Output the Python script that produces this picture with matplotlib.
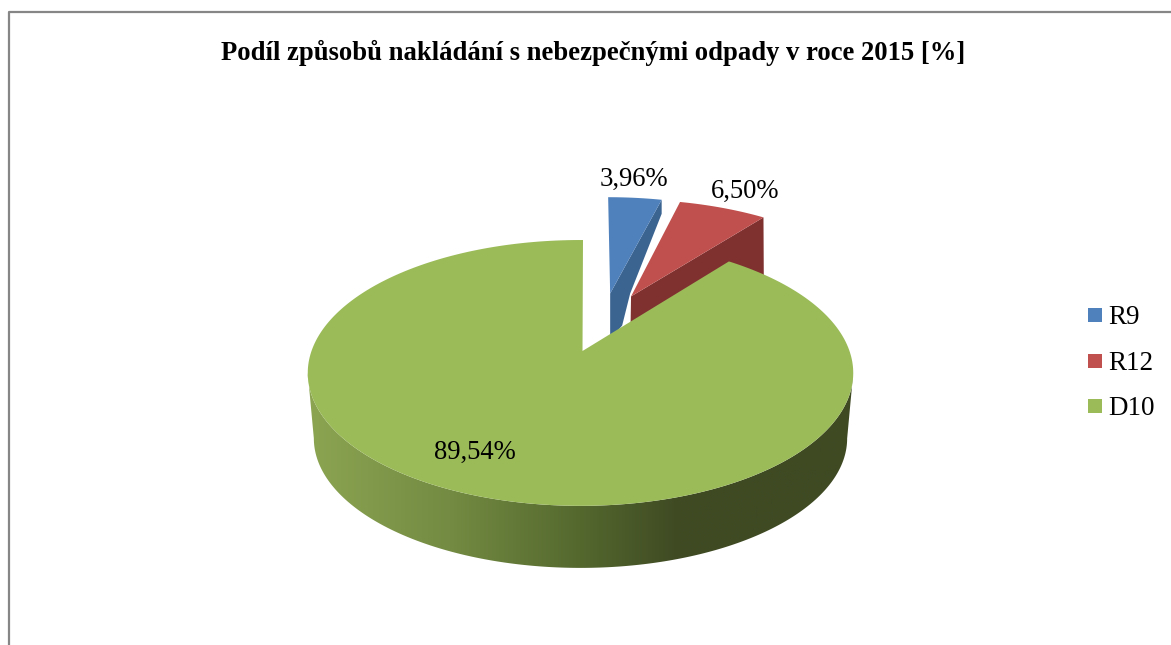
import numpy as np
import matplotlib
matplotlib.use("Agg")
import matplotlib.pyplot as plt
from matplotlib.colors import LinearSegmentedColormap
from matplotlib.patches import Polygon, Rectangle

plt.rcParams['font.family'] = ['Liberation Serif', 'DejaVu Serif']

title = "Podíl způsobů nakládání s nebezpečnými odpady v roce 2015 [%]"
categories = ["R9", "R12", "D10"]
shares = [3.96, 6.50, 89.54]
share_labels = ["3,96%", "6,50%", "89,54%"]

top_colors = ["#4f81bd", "#c0504d", "#9bbb59"]
wall_colors = ["#3b6491", "#7f3130", "#3f4a23"]

W, H = 1171, 645
cx, top_y, bottom_y = 580.5, 351, 417
k = 0.165
top_rx, top_ry = 269, 129.3
bottom_rx, bottom_ry = 263, 126
shear = 0.02

# explosion of every slice in the pie plane (x, y)
explode = [(0.119, 0.48), (0.202, 0.454), (0.0, 0.0)]


def project(u, v, bottom=False):
    d = 1 + k * v
    if bottom:
        return cx + bottom_rx * u / d, bottom_y - bottom_ry * v / d
    return cx + top_rx * u / d, top_y - top_ry * v / d


def slice_top(a0, a1, off, bottom=False):
    t = np.radians(np.linspace(a0, a1, 300))
    u = np.r_[off[0], off[0] + np.sin(t)]
    v = np.r_[off[1], off[1] + np.cos(t)]
    return np.column_stack(project(u, v, bottom))


def lean(pts):
    # the exploded slices lean a little to the right
    pts = pts.copy()
    pts[:, 0] += (pts[0, 1] - pts[:, 1]) * shear
    return pts


fig = plt.figure(figsize=(W / 100, H / 100), dpi=100)
ax = fig.add_axes([0, 0, 1, 1])
ax.set_xlim(0, W)
ax.set_ylim(H, 0)
ax.axis("off")

# chart frame, cut off on the right and at the bottom
ax.plot([8.5, 8.5, W], [H, 12, 12], color="#868686", lw=1.6, zorder=1)

edges = np.r_[0, np.cumsum(shares)] / 100 * 360

# blue slice: its wall is shallow and partly hidden
a0, a1 = edges[0], edges[1]
top = lean(slice_top(a0, a1, explode[0]))
corner = top[-1]
apex = top[0]
wall = [apex, corner, corner + [0, 14], apex + [20, 0], apex + [12, 32], apex + [0, 46]]
ax.add_patch(Polygon(wall, fc=wall_colors[0], ec="none", zorder=2))
ax.add_patch(Polygon(top, fc=top_colors[0], ec="none", zorder=3))

# red slice
a0, a1 = edges[1], edges[2]
top = lean(slice_top(a0, a1, explode[1]))
low = slice_top(a0, a1, explode[1], bottom=True)
wall = [top[0], top[-1], low[-1] + [6, 0], low[0]]
ax.add_patch(Polygon(wall, fc=wall_colors[1], ec="none", zorder=4))
ax.add_patch(Polygon(top, fc=top_colors[1], ec="none", zorder=5))

# green slice: front wall with a gradient, then the top face
silhouette = np.degrees(np.arccos(-k))
t = np.radians(np.linspace(silhouette, 360 - silhouette, 300))
front_top = np.column_stack(project(np.sin(t), np.cos(t)))
front_low = np.column_stack(project(np.sin(t), np.cos(t), bottom=True))
wall = Polygon(np.vstack([front_top, front_low[::-1]]), fc="none", ec="none", zorder=6)
ax.add_patch(wall)
stops = [(0.0, "#8ca552"), (0.26, "#738b42"), (0.5, "#54682e"), (0.68, "#3f4a23"), (1.0, "#3f4a23")]
cmap = LinearSegmentedColormap.from_list("wall", stops)
img = ax.imshow(np.linspace(0, 1, 512)[None, :], cmap=cmap, extent=[307, 853, 570, 370],
                aspect="auto", zorder=6)
img.set_clip_path(wall)
ax.set_xlim(0, W)
ax.set_ylim(H, 0)
top = slice_top(edges[2], edges[3], explode[2])
top[0] += [2, 0]
top[1] += [3, 1]
top = np.vstack([top, top[-1] + [2.5, 0]])
ax.add_patch(Polygon(top, fc=top_colors[2], ec="none", zorder=7))

# texts
ax.text(593.5, 53, title, ha="center", va="center", fontsize=19.15, fontweight="bold", color="black", zorder=8)
label_pos = [(634, 179), (745, 191), (475, 452)]
for s, (x, y) in zip(share_labels, label_pos):
    ax.text(x, y, s, ha="center", va="center", fontsize=19.2, color="black", zorder=8)

# legend
legend_y = [315, 361, 406]
for name, c, y in zip(categories, top_colors, legend_y):
    ax.add_patch(Rectangle((1088, y - 7), 14, 14, fc=c, ec="none", zorder=8))
    ax.text(1108, y + 2.5, name, ha="left", va="center", fontsize=19.5, color="black", zorder=8)

fig.savefig("out.png", dpi=100, facecolor="white")
